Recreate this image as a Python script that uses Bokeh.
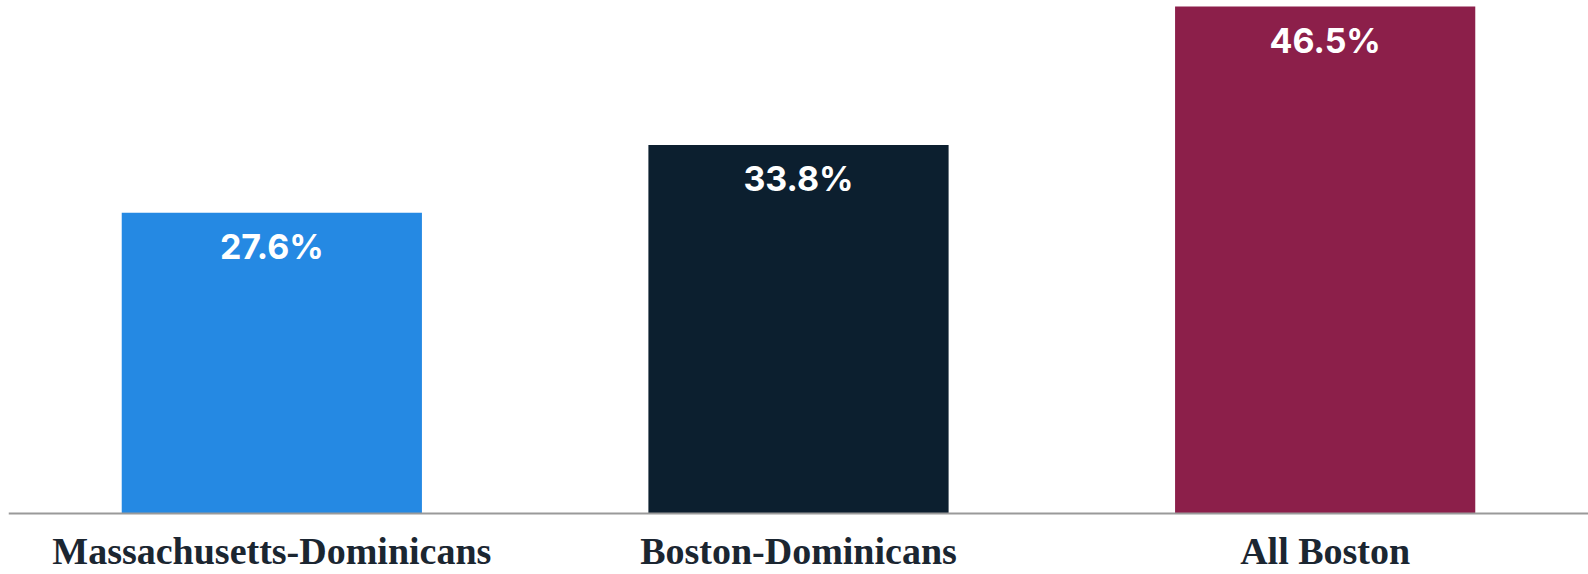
from bokeh.plotting import figure
from bokeh.models import ColumnDataSource, FactorRange, Range1d
from bokeh.embed import file_html
from bokeh.resources import INLINE
from bokeh.core.properties import value

categories = ["Massachusetts-Dominicans", "Boston-Dominicans", "All Boston"]
values = [27.6, 33.8, 46.5]
labels = ["27.6%", "33.8%", "46.5%"]
colors = ["#2589e3", "#0c1f2f", "#8c1f4a"]

src = ColumnDataSource(dict(cat=categories, val=values, lab=labels, col=colors))

p = figure(x_range=FactorRange(*categories, range_padding=0),
           y_range=Range1d(-5.596, 47.06),
           width=1588, height=574, output_backend="svg", toolbar_location=None,
           min_border_left=8, min_border_right=0, min_border_top=0, min_border_bottom=0)

p.vbar(x="cat", top="val", bottom=0, width=0.57, fill_color="col", line_color=None, source=src)
p.text(x="cat", y="val", text="lab", source=src, text_color="white",
       text_font=value("Inter"), text_font_style="bold", text_font_size="34px",
       text_align="center", text_baseline="top", y_offset=13)

p.outline_line_color = None
p.xgrid.visible = False
p.ygrid.visible = False
p.yaxis.visible = False
xa = p.xaxis[0]
xa.fixed_location = 0
xa.axis_line_color = "#9a9a9a"
xa.axis_line_width = 2
xa.major_tick_line_color = None
xa.minor_tick_line_color = None
xa.major_label_text_font = "Liberation Serif"
xa.major_label_text_font_style = "bold"
xa.major_label_text_font_size = "38px"
xa.major_label_text_color = "#1b2631"
xa.major_label_standoff = 17
xa.major_tick_out = 0
xa.major_tick_in = 0

open("out.html", "w").write(file_html(p, INLINE))
